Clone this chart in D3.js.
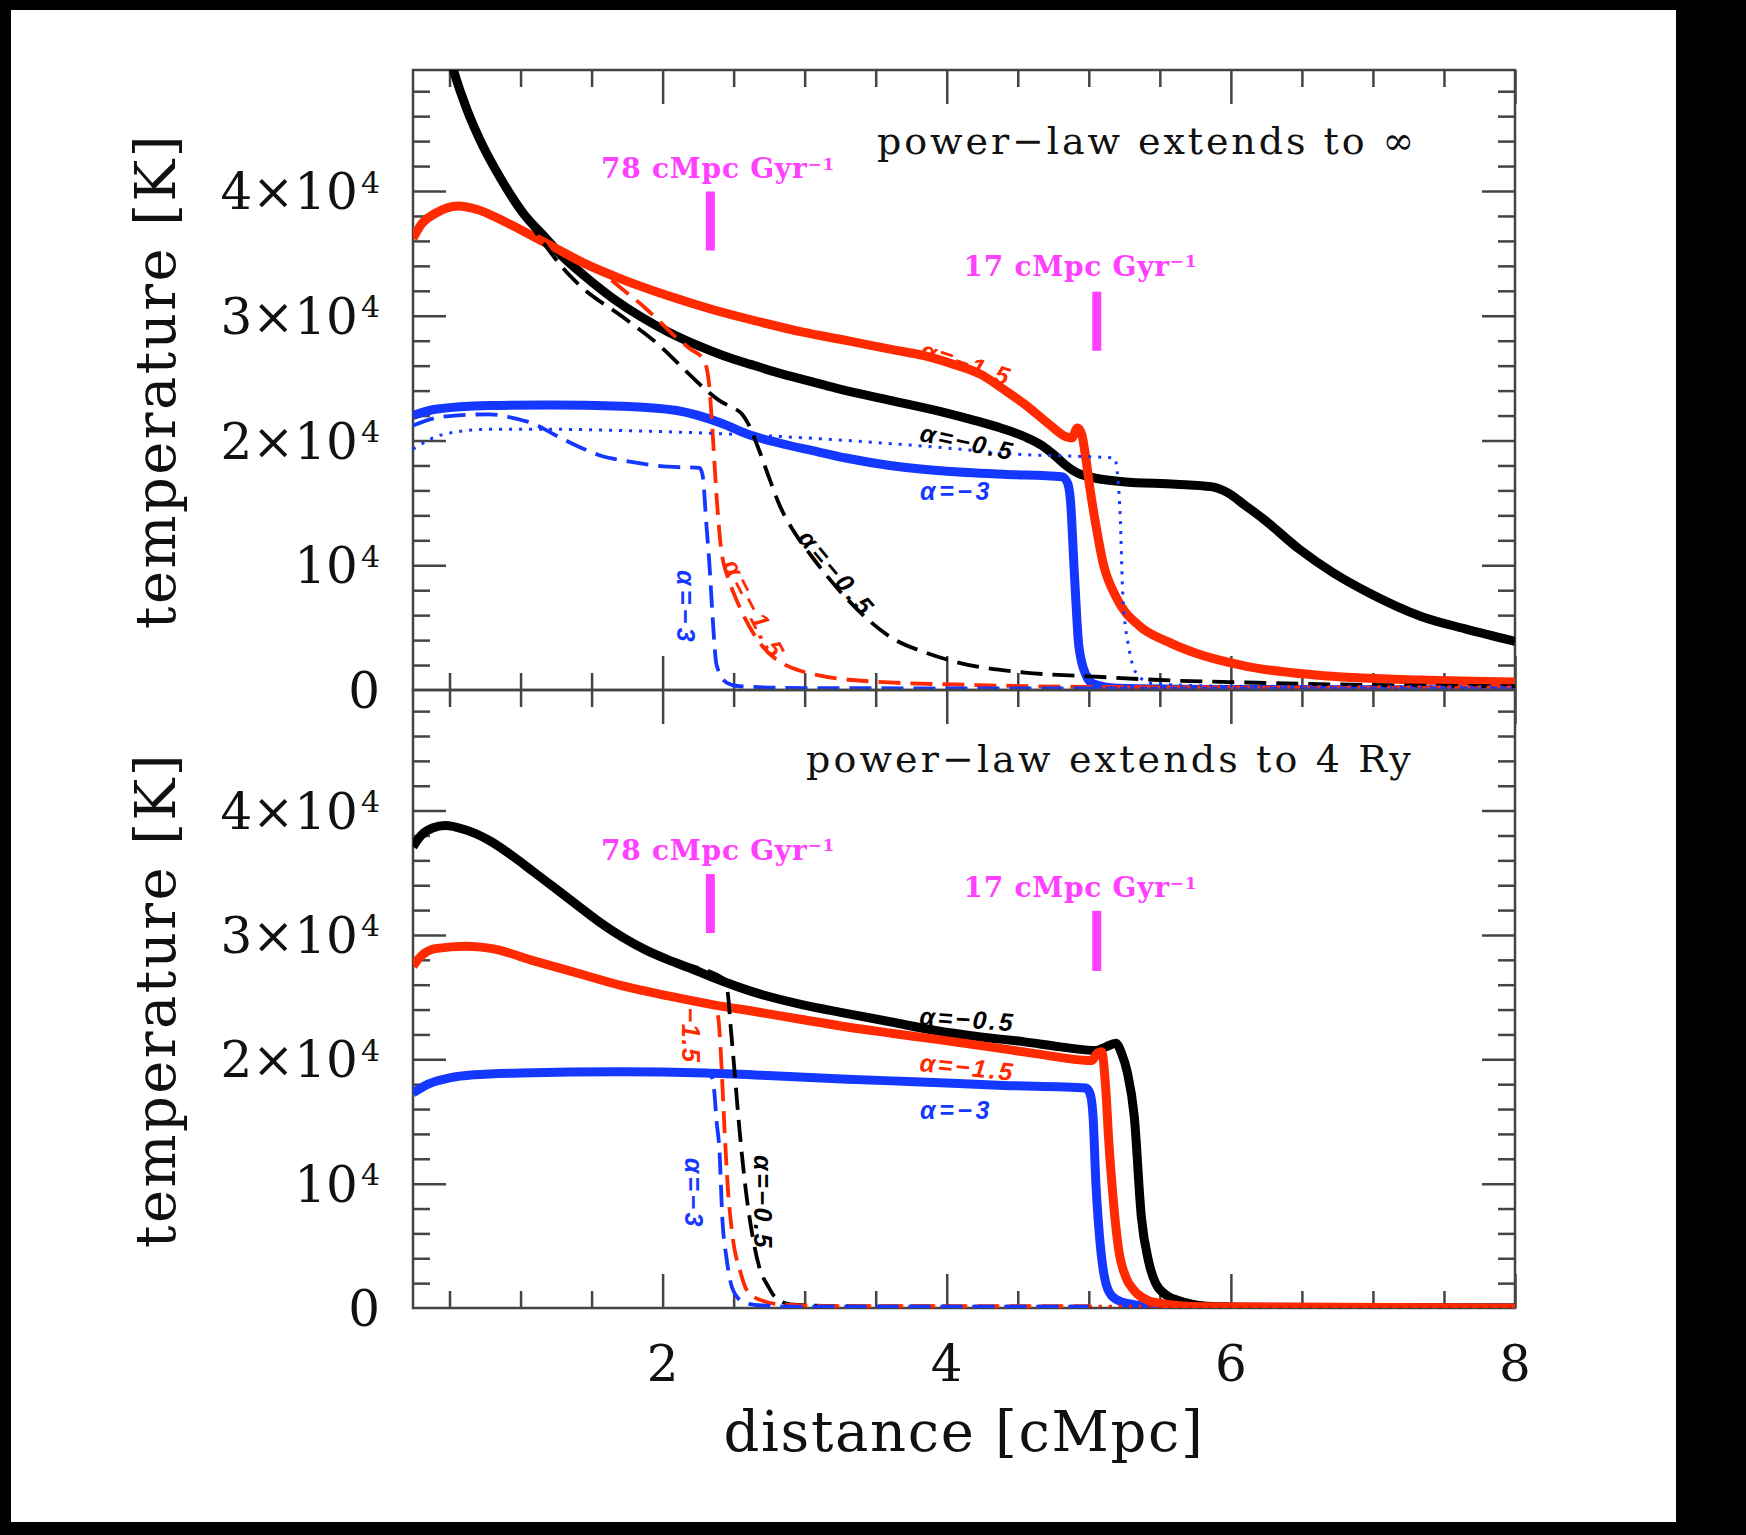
<!DOCTYPE html>
<html>
<head>
<meta charset="utf-8">
<script src="https://cdn.jsdelivr.net/npm/d3@7"></script>
<style>
html, body { margin: 0; padding: 0; background: #000; }
svg { display: block; }
</style>
</head>
<body>
<svg id="chart" width="1746" height="1535"></svg>
<script>
// temperature [K] against distance [cMpc]

// top panel: power-law extends to infinity
var topBlackSolid = [[0.45,53000],[0.53,49600],[0.62,46600],[0.71,44200],[0.86,41000],[1.02,38200],[1.18,36200],[1.3,34700],[1.45,33200],[1.65,31400],[1.85,29900],[2.04,28700],[2.25,27600],[2.43,26800],[2.62,26100],[2.82,25400],[3.02,24800],[3.22,24200],[3.61,23200],[4.0,22200],[4.2,21600],[4.38,21000],[4.55,20300],[4.67,19600],[4.76,18800],[4.84,18000],[4.92,17400],[5.0,17100],[5.24,16700],[5.61,16500],[5.86,16300],[5.98,15800],[6.1,14800],[6.23,13700],[6.48,11300],[6.72,9400],[6.97,7800],[7.34,5900],[7.65,4900],[8.0,3900]];
var topRedSolid = [[0.243,36200],[0.3,37300],[0.4,38200],[0.56,38800],[0.7,38500],[0.86,37700],[1.1,36300],[1.25,35400],[1.45,34200],[1.72,32900],[2.04,31600],[2.35,30500],[2.65,29600],[2.98,28700],[3.3,28000],[3.61,27300],[3.84,26800],[4.05,26100],[4.24,25300],[4.4,24100],[4.55,22900],[4.71,21400],[4.84,20300],[4.88,20200],[4.92,21000],[4.95,20500],[4.98,18500],[5.01,16000],[5.05,13200],[5.1,10200],[5.19,7500],[5.36,5100],[5.55,3900],[5.74,3000],[6.11,1900],[6.6,1200],[7.34,800],[8.0,650]];
var topBlueSolid = [[0.243,22000],[0.4,22500],[0.78,22800],[1.2,22850],[1.72,22750],[2.1,22400],[2.41,21400],[2.6,20500],[2.82,19800],[3.05,19200],[3.29,18600],[3.6,18000],[3.93,17600],[4.4,17300],[4.81,17100],[4.85,16600],[4.87,15300],[4.9,9000],[4.93,3500],[4.98,1200],[5.03,500],[5.2,150],[6.0,50],[8.0,0]];
var topBlackDashed = [[0.9,40000],[1.05,37600],[1.19,35400],[1.3,33800],[1.41,32500],[1.72,29900],[1.98,27600],[2.17,25500],[2.32,23900],[2.4,23200],[2.48,22700],[2.56,22100],[2.6,21400],[2.67,19500],[2.75,17000],[2.82,14900],[2.93,12600],[3.05,10700],[3.29,7400],[3.45,5600],[3.61,4200],[3.85,3000],[4.08,2200],[4.55,1400],[5.0,1100],[5.5,800],[6.11,600],[7.0,400],[8.0,300]];
var topRedDashed = [[1.45,34200],[1.6,33200],[1.72,32100],[1.85,30900],[2.0,29300],[2.1,28200],[2.2,27300],[2.28,26600],[2.31,25800],[2.33,24200],[2.35,21000],[2.38,15500],[2.41,11500],[2.46,9000],[2.51,7500],[2.67,4000],[2.98,1500],[3.45,700],[4.2,400],[5.0,250],[8.0,150]];
var topBlueDashed = [[0.243,21200],[0.45,21900],[0.78,22100],[0.95,21800],[1.1,21300],[1.25,20400],[1.41,19500],[1.56,18800],[1.72,18400],[2.04,17900],[2.26,17800],[2.28,17300],[2.31,13000],[2.33,10000],[2.35,6200],[2.38,2000],[2.45,600],[2.54,300],[3.0,150],[8.0,100]];
var topBlueDotted = [[0.243,19300],[0.3,19700],[0.46,20500],[0.78,20900],[1.2,20900],[1.72,20800],[2.5,20500],[3.3,20000],[4.0,19400],[4.5,18900],[5.0,18700],[5.18,18600],[5.2,17500],[5.22,14200],[5.24,7500],[5.28,3500],[5.35,1100],[5.46,500],[6.0,300],[8.0,250]];
var topRedDotted = [[5.2,250],[8.0,250]];

// bottom panel: power-law extends to 4 Ry
var botBlackSolid = [[0.243,37100],[0.3,38000],[0.38,38600],[0.47,38800],[0.6,38500],[0.78,37600],[0.95,36300],[1.1,35000],[1.25,33700],[1.41,32300],[1.56,31000],[1.72,29800],[1.88,28800],[2.04,28000],[2.2,27300],[2.35,26600],[2.67,25300],[2.98,24400],[3.29,23700],[3.61,23000],[3.93,22300],[4.24,21800],[4.55,21400],[4.8,21000],[5.05,20700],[5.12,21000],[5.19,21300],[5.23,20500],[5.27,19000],[5.32,15400],[5.37,7300],[5.42,3800],[5.47,2000],[5.55,1000],[5.63,600],[5.83,150],[6.2,30],[8.0,0]];
var botRedSolid = [[0.243,27500],[0.3,28300],[0.4,28900],[0.62,29100],[0.8,28900],[1.1,27900],[1.41,26900],[1.72,25900],[2.04,25100],[2.35,24400],[2.67,23800],[2.98,23200],[3.3,22600],[3.61,22100],[3.93,21600],[4.24,21100],[4.6,20500],[5.02,19900],[5.06,20500],[5.09,20600],[5.12,17500],[5.14,13500],[5.17,9000],[5.21,4700],[5.26,2500],[5.32,1400],[5.42,600],[5.52,350],[5.8,100],[8.0,0]];
var botBlueSolid = [[0.243,17300],[0.35,18000],[0.5,18500],[0.67,18750],[1.0,18900],[1.7,19000],[2.3,18900],[2.74,18700],[3.3,18400],[3.77,18200],[4.4,17900],[4.98,17700],[5.01,17200],[5.03,15400],[5.05,10000],[5.07,6500],[5.11,2500],[5.16,1000],[5.26,400],[5.5,100],[8.0,0]];
var botBlackDashed = [[2.1,27700],[2.43,26500],[2.46,25200],[2.48,22500],[2.5,19900],[2.54,14500],[2.58,10000],[2.63,6000],[2.68,3300],[2.74,1800],[2.79,900],[2.9,300],[3.2,150],[5.0,100]];
var botRedDashed = [[2.0,25200],[2.36,24400],[2.39,23500],[2.41,20500],[2.43,15700],[2.46,9500],[2.49,6000],[2.55,2800],[2.6,1300],[2.7,600],[2.82,300],[3.2,150],[5.0,150]];
var botBlueDashed = [[2.0,18950],[2.33,18900],[2.36,17800],[2.38,15000],[2.4,12700],[2.42,7300],[2.45,4000],[2.48,2000],[2.53,800],[2.58,400],[2.7,200],[3.0,100],[5.0,100]];
var botBlackDotted = [[5.0,100],[8.0,100]];
var botRedDotted = [[5.0,150],[8.0,150]];

// axes
var xMajorTicks = [2, 4, 6, 8];
var xMinorTicks = d3.range(0.5, 8, 0.5).filter(function(v) { return v % 2 !== 0; });
var yMajorTicks = [10000, 20000, 30000, 40000];
var yMinorTicks = d3.range(2000, 49700, 2000).filter(function(v) { return v % 10000 !== 0; });
var yTickValues = [0, 10000, 20000, 30000, 40000];
var yTickMain = ["0", "10", "2×10", "3×10", "4×10"];
var yTickSup = ["", "4", "4", "4", "4"];

var panelTitles = ["power−law extends to ∞", "power−law extends to 4 Ry"];
var speedLabels = ["78 cMpc Gyr", "17 cMpc Gyr"];

var RED = "#ff2a00", BLUE = "#1438ff", BLACK = "#000", MAGENTA = "#ff40ff";

var svg = d3.select("#chart");
svg.append("rect").attr("x", 11).attr("y", 10).attr("width", 1665).attr("height", 1512).attr("fill", "#fff");

var x = d3.scaleLinear().domain([0.243, 8]).range([413, 1515]);

function styled(data, color, kind) { return {data: data, color: color, kind: kind}; }

var panels = [
  {
    y: d3.scaleLinear().domain([0, 49700]).range([690, 70]),
    title: panelTitles[0], titleX: 5.41, titleT: 42970,
    series: [
      styled(topBlueSolid, BLUE, "solid"), styled(topBlackSolid, BLACK, "solid"), styled(topRedSolid, RED, "solid"),
      styled(topBlackDashed, BLACK, "dashed"), styled(topRedDashed, RED, "dashed"), styled(topBlueDashed, BLUE, "dashed"),
      styled(topBlueDotted, BLUE, "dotted"), styled(topRedDotted, RED, "dotted")
    ],
    speeds: [{x: 2.336, t0: 35230, t1: 39960, labX: 2.39, labT: 41040}, {x: 5.056, t0: 27190, t1: 31930, labX: 4.941, labT: 33190}],
    labels: [
      {s: "α=−1.5", c: RED, x: 4.139, t: 26200, r: 18, w: 94},
      {s: "α=−0.5", c: BLACK, x: 4.147, t: 19880, r: 12, w: 96},
      {s: "α=−3", c: BLUE, x: 4.069, t: 15950, r: 0, w: 73},
      {s: "α=−0.5", c: BLACK, x: 3.23, t: 9340, r: 50, w: 105},
      {s: "α=−1.5", c: RED, x: 2.65, t: 6410, r: 63, w: 110},
      {s: "α=−3", c: BLUE, x: 2.165, t: 6570, r: 90, w: 76}
    ]
  },
  {
    y: d3.scaleLinear().domain([0, 49700]).range([1308, 690]),
    title: panelTitles[1], titleX: 5.149, titleT: 43100,
    series: [
      styled(botBlueSolid, BLUE, "solid"), styled(botBlackSolid, BLACK, "solid"), styled(botRedSolid, RED, "solid"),
      styled(botBlackDashed, BLACK, "dashed"), styled(botRedDashed, RED, "dashed"), styled(botBlueDashed, BLUE, "dashed"),
      styled(botBlackDotted, BLACK, "dotted"), styled(botRedDotted, RED, "dotted")
    ],
    speeds: [{x: 2.336, t0: 30160, t1: 34900, labX: 2.39, labT: 36030}, {x: 5.056, t0: 27100, t1: 31940, labX: 4.941, labT: 33050}],
    labels: [
      {s: "α=−0.5", c: BLACK, x: 4.147, t: 23240, r: 4, w: 96},
      {s: "α=−1.5", c: RED, x: 4.147, t: 19380, r: 6, w: 96},
      {s: "α=−3", c: BLUE, x: 4.069, t: 15920, r: 0, w: 73},
      {s: "−1.5", c: RED, x: 2.203, t: 21910, r: 90, w: 56},
      {s: "α=−3", c: BLUE, x: 2.219, t: 9190, r: 90, w: 72},
      {s: "α=−0.5", c: BLACK, x: 2.704, t: 8480, r: 90, w: 95}
    ]
  }
];

function fitWidth(sel, target) {
  sel.each(function() {
    var len = this.getComputedTextLength();
    var n = this.getNumberOfChars();
    if (n > 1) d3.select(this).attr("letter-spacing", (target - len) / n);
  });
}

function edgeTicks(g, axis) {
  g.call(axis).call(function(s) { s.select(".domain").remove(); });
  g.attr("color", "#444").selectAll("line").attr("stroke-width", 2.5);
}

panels.forEach(function(p, i) {
  var y = p.y;
  var top = y.range()[1], bottom = y.range()[0];
  var clipId = "clip" + i;
  svg.append("clipPath").attr("id", clipId).append("rect")
    .attr("x", 413).attr("y", top).attr("width", 1102).attr("height", bottom - top);

  // tick marks on all four edges, pointing inwards
  [[xMinorTicks, 17], [xMajorTicks, 34]].forEach(function(tk) {
    edgeTicks(svg.append("g").attr("transform", "translate(0," + bottom + ")"),
      d3.axisBottom(x).tickValues(tk[0]).tickSize(-tk[1]).tickSizeOuter(0).tickFormat(""));
    edgeTicks(svg.append("g").attr("transform", "translate(0," + top + ")"),
      d3.axisTop(x).tickValues(tk[0]).tickSize(-tk[1]).tickSizeOuter(0).tickFormat(""));
  });
  [[yMinorTicks, 17], [yMajorTicks, 33]].forEach(function(tk) {
    edgeTicks(svg.append("g").attr("transform", "translate(413,0)"),
      d3.axisLeft(y).tickValues(tk[0]).tickSize(-tk[1]).tickSizeOuter(0).tickFormat(""));
    edgeTicks(svg.append("g").attr("transform", "translate(1515,0)"),
      d3.axisRight(y).tickValues(tk[0]).tickSize(-tk[1]).tickSizeOuter(0).tickFormat(""));
  });

  svg.append("rect").attr("x", 413).attr("y", top).attr("width", 1102).attr("height", bottom - top)
    .attr("fill", "none").attr("stroke", "#444").attr("stroke-width", 2.5);

  // curves
  var line = d3.line().x(function(d) { return x(d[0]); }).y(function(d) { return y(d[1]); })
    .curve(d3.curveMonotoneX);
  var curves = svg.append("g").attr("clip-path", "url(#" + clipId + ")");
  p.series.forEach(function(s) {
    var path = curves.append("path").datum(s.data).attr("d", line)
      .attr("fill", "none").attr("stroke", s.color).attr("stroke-linejoin", "round");
    if (s.kind === "solid") path.attr("stroke-width", 9);
    if (s.kind === "dashed") path.attr("stroke-width", 3.8).attr("stroke-dasharray", "22,10");
    if (s.kind === "dotted") path.attr("stroke-width", 3).attr("stroke-dasharray", "3,7");
  });

  // y tick labels
  yTickValues.forEach(function(v, k) {
    var t = svg.append("text").attr("x", 380).attr("y", y(v) + 18)
      .attr("text-anchor", "end").attr("font-family", "DejaVu Serif").attr("font-size", 50)
      .attr("fill", "#111");
    t.append("tspan").text(yTickMain[k]);
    if (yTickSup[k]) t.append("tspan").attr("dy", "-0.55em").attr("dx", 3).attr("font-size", 30).text(yTickSup[k]);
  });

  // axis title
  svg.append("text").attr("transform", "translate(175," + ((top + bottom) / 2 + 1) + ") rotate(-90)")
    .attr("text-anchor", "middle").attr("font-family", "DejaVu Serif").attr("font-size", 56)
    .attr("fill", "#111").text("temperature [K]").call(fitWidth, 496);

  // panel title
  svg.append("text").attr("x", x(p.titleX)).attr("y", y(p.titleT))
    .attr("text-anchor", "middle").attr("font-family", "DejaVu Serif").attr("font-size", 38)
    .attr("fill", "#111").text(p.title).call(fitWidth, i === 0 ? 540 : 608);

  // speed markers
  p.speeds.forEach(function(m, k) {
    svg.append("line").attr("x1", x(m.x)).attr("x2", x(m.x)).attr("y1", y(m.t0)).attr("y2", y(m.t1))
      .attr("stroke", MAGENTA).attr("stroke-width", 9);
    var t = svg.append("text").attr("x", x(m.labX)).attr("y", y(m.labT))
      .attr("text-anchor", "middle").attr("font-family", "DejaVu Serif").attr("font-weight", "bold")
      .attr("font-size", 28).attr("fill", MAGENTA);
    t.append("tspan").text(speedLabels[k]);
    t.append("tspan").attr("dy", "-0.5em").attr("font-size", 17).text("−1");
    t.call(fitWidth, 234);
  });

  // curve labels
  p.labels.forEach(function(l) {
    svg.append("text").attr("transform", "translate(" + x(l.x) + "," + y(l.t) + ") rotate(" + l.r + ")")
      .attr("text-anchor", "middle").attr("dominant-baseline", "central")
      .attr("font-family", "Liberation Sans").attr("font-style", "italic").attr("font-weight", "bold")
      .attr("font-size", 25).attr("fill", l.c).text(l.s).call(fitWidth, l.w);
  });
});

// x tick labels and title
xMajorTicks.forEach(function(v) {
  svg.append("text").attr("x", x(v)).attr("y", 1381).attr("text-anchor", "middle")
    .attr("font-family", "DejaVu Serif").attr("font-size", 50).attr("fill", "#111").text(v);
});
svg.append("text").attr("x", 964).attr("y", 1451).attr("text-anchor", "middle")
  .attr("font-family", "DejaVu Serif").attr("font-size", 56).attr("fill", "#111")
  .text("distance [cMpc]").call(fitWidth, 481);
</script>
</body>
</html>
